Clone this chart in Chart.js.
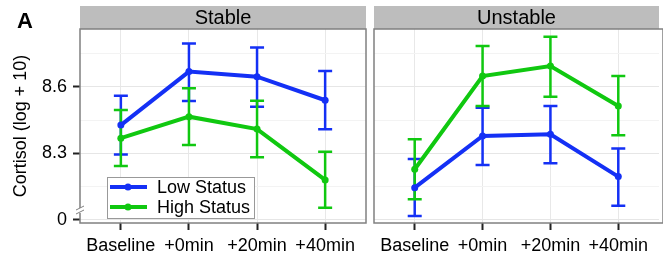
<!DOCTYPE html>
<html>
<head>
<meta charset="utf-8">
<script src="https://cdn.jsdelivr.net/npm/chart.js@4"></script>
<style>
  html, body { margin: 0; padding: 0; background: #fff; }
  #wrap { position: relative; width: 663px; height: 257px; overflow: hidden; }
  canvas { position: absolute; top: 0; }
</style>
</head>
<body>
<div id="wrap">
  <canvas id="stable" width="370" height="257" style="left:0"></canvas>
  <canvas id="unstable" width="293" height="257" style="left:370px"></canvas>
</div>
<script>
// values
const categories = ['Baseline', '+0min', '+20min', '+40min'];
const seriesNames = ['Low Status', 'High Status'];

const stableLow = [8.427, 8.668, 8.645, 8.539];
const stableLowLo = [8.295, 8.536, 8.510, 8.408];
const stableLowHi = [8.559, 8.795, 8.777, 8.671];
const stableHigh = [8.368, 8.465, 8.409, 8.180];
const stableHighLo = [8.243, 8.337, 8.282, 8.055];
const stableHighHi = [8.495, 8.593, 8.537, 8.307];

const unstableLow = [8.145, 8.378, 8.386, 8.195];
const unstableLowLo = [8.018, 8.247, 8.255, 8.064];
const unstableLowHi = [8.274, 8.505, 8.513, 8.322];
const unstableHigh = [8.228, 8.648, 8.693, 8.513];
const unstableHighLo = [8.093, 8.513, 8.555, 8.381];
const unstableHighHi = [8.363, 8.783, 8.825, 8.648];

// y axis is broken: the bottom tick stands for 0
const yTicks = [8.0, 8.3, 8.6];
const yTickLabels = ['0', '8.3', '8.6'];
const yMinor = [8.15, 8.45, 8.75];

const BLUE = '#1430f5';
const GREEN = '#10c810';
const FONT = '"Liberation Sans", Arial, Helvetica, sans-serif';

const isMajor = (v) => yTicks.some(t => Math.abs(t - v) < 1e-6);

// error bars, strip, border, legend
const panelDeco = {
  id: 'panelDeco',
  beforeDatasetsDraw(chart) {
    const ctx = chart.ctx;
    const x = chart.scales.x, y = chart.scales.y;
    ctx.save();
    chart.data.datasets.forEach(ds => {
      ctx.strokeStyle = ds.borderColor;
      ctx.lineWidth = 2.5;
      ds.lo.forEach((lo, i) => {
        const px = x.getPixelForValue(i);
        const y1 = y.getPixelForValue(lo), y2 = y.getPixelForValue(ds.hi[i]);
        ctx.beginPath();
        ctx.moveTo(px, y1); ctx.lineTo(px, y2);
        ctx.moveTo(px - 7, y1); ctx.lineTo(px + 7, y1);
        ctx.moveTo(px - 7, y2); ctx.lineTo(px + 7, y2);
        ctx.stroke();
      });
    });
    ctx.restore();
  },
  afterDraw(chart, args, opts) {
    const ctx = chart.ctx;
    const a = chart.chartArea;
    ctx.save();
    // strip
    ctx.fillStyle = '#bdbdbd';
    ctx.fillRect(a.left, 6, a.right - a.left, a.top - 6);
    ctx.fillStyle = '#000';
    ctx.font = '20px ' + FONT;
    ctx.textAlign = 'center';
    ctx.textBaseline = 'middle';
    ctx.fillText(opts.title, (a.left + a.right) / 2, 6 + (a.top - 6) / 2 + 1);
    // panel border (right panel runs off the edge)
    ctx.strokeStyle = '#808080';
    ctx.lineWidth = 1.5;
    const rightEdge = opts.withAxis ? a.right : a.right + 4;
    ctx.strokeRect(a.left, a.top, rightEdge - a.left, a.bottom - a.top);
    if (opts.withAxis) {
      ctx.fillStyle = '#000';
      ctx.font = 'bold 22px ' + FONT;
      ctx.textAlign = 'left';
      ctx.textBaseline = 'alphabetic';
      ctx.fillText('A', 17, 28);
      // axis break mark
      ctx.fillStyle = '#fff';
      ctx.fillRect(a.left - 2, 208, 4, 5);
      ctx.strokeStyle = '#808080';
      ctx.lineWidth = 1;
      ctx.beginPath();
      ctx.moveTo(a.left - 4, 210); ctx.lineTo(a.left + 4, 206);
      ctx.moveTo(a.left - 4, 214); ctx.lineTo(a.left + 4, 210);
      ctx.stroke();
      // legend
      const lx = 107, ly = 177, lw = 147, lh = 41;
      ctx.fillStyle = '#fff';
      ctx.fillRect(lx, ly, lw, lh);
      ctx.strokeStyle = '#999';
      ctx.lineWidth = 1;
      ctx.strokeRect(lx + 0.5, ly + 0.5, lw, lh);
      chart.data.datasets.forEach((ds, i) => {
        const ry = ly + 10 + i * 20;
        ctx.strokeStyle = ds.borderColor;
        ctx.lineWidth = 4;
        ctx.beginPath();
        ctx.moveTo(lx + 3, ry); ctx.lineTo(lx + 40, ry);
        ctx.stroke();
        ctx.fillStyle = ds.borderColor;
        ctx.beginPath();
        ctx.arc(lx + 21, ry, 3.5, 0, Math.PI * 2);
        ctx.fill();
        ctx.fillStyle = '#000';
        ctx.font = '18px ' + FONT;
        ctx.textAlign = 'left';
        ctx.textBaseline = 'middle';
        ctx.fillText(ds.label, lx + 50, ry + 1);
      });
    }
    ctx.restore();
  }
};

function makePanel(canvasId, title, low, lowLo, lowHi, high, highLo, highHi, withAxis) {
  const ctx = document.getElementById(canvasId);
  const toPts = arr => arr.map((v, i) => ({ x: i, y: v }));

  return new Chart(ctx, {
    type: 'line',
    data: {
      datasets: [
        {
          label: seriesNames[0],
          data: toPts(low), lo: lowLo, hi: lowHi,
          borderColor: BLUE, backgroundColor: BLUE,
          borderWidth: 4, pointRadius: 3.5, pointBorderWidth: 0,
          order: 2,
        },
        {
          label: seriesNames[1],
          data: toPts(high), lo: highLo, hi: highHi,
          borderColor: GREEN, backgroundColor: GREEN,
          borderWidth: 4, pointRadius: 3.5, pointBorderWidth: 0,
          order: 1,
        },
      ],
    },
    options: {
      responsive: false,
      animation: false,
      layout: { padding: { top: 29, right: withAxis ? 1 : 0, left: withAxis ? 0 : 4, bottom: 0 } },
      plugins: {
        legend: { display: false },
        tooltip: { enabled: false },
        panelDeco: { title, withAxis },
      },
      scales: {
        x: {
          type: 'linear', min: -0.6, max: 3.6,
          afterBuildTicks: s => { s.ticks = categories.map((c, i) => ({ value: i })); },
          afterFit: s => { s.height = 34; },
          border: { display: false },
          grid: { color: '#e8e8e8', lineWidth: 1, tickColor: '#222', tickLength: 7, tickWidth: 2 },
          ticks: {
            autoSkip: false, maxRotation: 0, padding: 5,
            color: '#000', font: { family: FONT, size: 18 },
            callback: v => categories[v],
          },
        },
        y: {
          type: 'linear', min: 7.986, max: 8.86,
          afterBuildTicks: s => {
            s.ticks = yTicks.concat(yMinor).sort((p, q) => p - q).map(v => ({ value: v }));
          },
          afterFit: s => { s.width = withAxis ? 80 : 0; },
          border: { display: false },
          title: {
            display: withAxis, text: 'Cortisol (log + 10)', color: '#000',
            font: { family: FONT, size: 18 }, padding: { top: 10, bottom: 0 },
          },
          grid: {
            color: c => isMajor(c.tick.value) ? '#e6e6e6' : '#f3f3f3',
            lineWidth: 1,
            drawTicks: withAxis,
            tickColor: c => isMajor(c.tick.value) ? '#222' : 'rgba(0,0,0,0)',
            tickLength: 7, tickWidth: 2,
          },
          ticks: {
            display: withAxis, padding: 6, color: '#000',
            font: { family: FONT, size: 18 },
            callback: v => {
              const k = yTicks.findIndex(t => Math.abs(t - v) < 1e-6);
              return k >= 0 ? yTickLabels[k] : '';
            },
          },
        },
      },
    },
    plugins: [panelDeco],
  });
}

makePanel('stable', 'Stable', stableLow, stableLowLo, stableLowHi, stableHigh, stableHighLo, stableHighHi, true);
makePanel('unstable', 'Unstable', unstableLow, unstableLowLo, unstableLowHi, unstableHigh, unstableHighLo, unstableHighHi, false);
</script>
</body>
</html>
